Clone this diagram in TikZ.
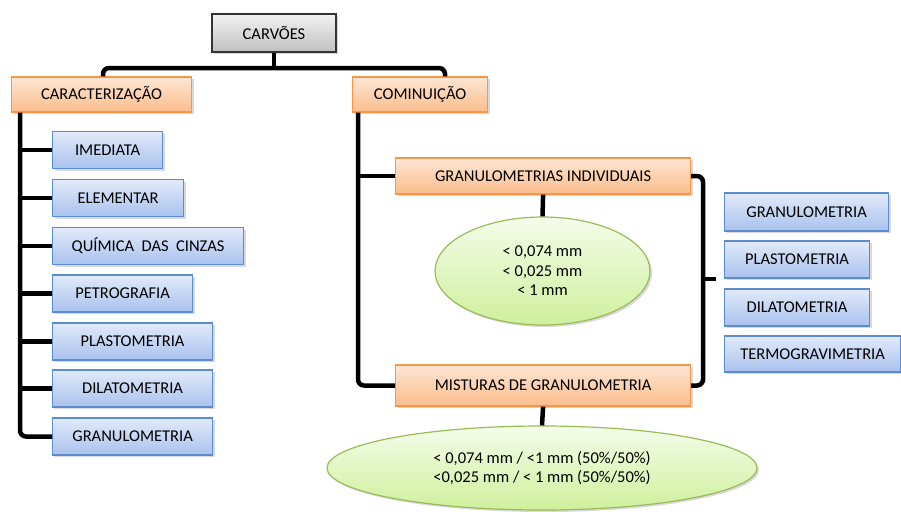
\documentclass[tikz,border=0pt]{standalone}
\usepackage{fontspec}
\setmainfont{Carlito}
\usetikzlibrary{shapes.geometric,shadows}

\definecolor{azulborda}{HTML}{5B8CCF}
\definecolor{azulclaro}{HTML}{E1EAF9}
\definecolor{azulescuro}{HTML}{A9C2EE}
\definecolor{larborda}{HTML}{F79646}
\definecolor{larclaro}{HTML}{FDE6D4}
\definecolor{larescuro}{HTML}{FBBD8B}
\definecolor{verborda}{HTML}{9BBB59}
\definecolor{verclaro}{HTML}{F4FCEA}
\definecolor{verescuro}{HTML}{CFF09C}

\tikzset{sombra/.style = {drop shadow={opacity=0.3, shadow xshift=2pt, shadow yshift=-2pt}},
         caixa/.style = {draw=azulborda, line width=1.2pt, top color=azulclaro, bottom color=azulescuro,
                          minimum height=37pt, inner sep=0pt, anchor=west, sombra},
         laranja/.style = {draw=larborda, line width=1.2pt, top color=larclaro, bottom color=larescuro,
                           minimum height=36pt, inner sep=0pt, anchor=west, sombra},
         bolha/.style = {ellipse, draw=verborda, line width=1.2pt, top color=verclaro, bottom color=verescuro,
                         inner sep=0pt, align=center, sombra},
         liga/.style = {line width=4.5pt, rounded corners=6pt}
        }

\begin{document}
\begin{tikzpicture}[x=1pt, y=-1pt, font=\fontsize{16.5}{19.5}\selectfont]
\useasboundingbox (0,0) rectangle (901,511);
\node[draw=black!80, line width=2pt, top color=black!5, bottom color=black!25, minimum width=124pt,
      minimum height=38pt, sombra] at (274,33) (carv) {CARVÕES};
\node[laranja, minimum width=180pt, minimum height=35pt] at (11,94.5) (carac) {CARACTERIZAÇÃO};
\node[laranja, minimum width=135pt, minimum height=35pt] at (352,94.5) (comin) {COMINUIÇÃO};
\node[caixa, minimum width=110pt] at (52,150) (b1) {IMEDIATA};
\node[caixa, minimum width=131pt] at (52,198) (b2) {ELEMENTAR};
\node[caixa, minimum width=191pt] at (52,246) (b3) {QUÍMICA\ \ DAS\ \ CINZAS};
\node[caixa, minimum width=140pt] at (52,293.5) (b4) {PETROGRAFIA};
\node[caixa, minimum width=160pt] at (52,341.5) (b5) {PLASTOMETRIA};
\node[caixa, minimum width=160pt] at (52,388.5) (b6) {DILATOMETRIA};
\node[caixa, minimum width=160pt] at (52,436.5) (b7) {GRANULOMETRIA};
\node[laranja, minimum width=295pt] at (395,176) (gi) {GRANULOMETRIAS INDIVIDUAIS};
\node[bolha, minimum width=215pt, minimum height=108pt] at (542.5,271) (el1) {< 0,074 mm\\< 0,025 mm\\< 1 mm};
\node[laranja, minimum width=295pt, minimum height=41pt] at (395,385.5) (mg) {MISTURAS DE GRANULOMETRIA};
\node[bolha, minimum width=430pt, minimum height=84pt] at (542,468) (el2)
     {< 0,074 mm / <1 mm (50\%/50\%)\\<0,025 mm / < 1 mm (50\%/50\%)};
\node[caixa, minimum width=164pt, minimum height=38pt] at (724,212) (r1) {GRANULOMETRIA};
\node[caixa, minimum width=145pt] at (724,259.5) (r2) {PLASTOMETRIA};
\node[caixa, minimum width=145pt] at (724,307.5) (r3) {DILATOMETRIA};
\node[caixa, minimum width=176pt, minimum height=36pt] at (724,354) (r4) {TERMOGRAVIMETRIA};

\coordinate (topo) at (274,68);
\coordinate (chave) at (703,279);
\coordinate (ponta) at (716,279);
\draw[liga] (carv.south) -- (topo);
\draw[liga] (carac.north -| 103,0) |- (topo) -| (comin.north -| 445,0);
\draw[liga] (carac.south -| 20,0) |- (b7.west);
\foreach \n in {b1,b2,b3,b4,b5,b6}
  \draw[liga] (\n.west -| 20,0) -- (\n.west);
\draw[liga] (comin.south -| 358,0) |- (mg.west);
\draw[liga] (gi.west -| 358,0) -- (gi.west);
\draw[liga] (gi.south) -- (el1.north);
\draw[liga] (mg.south) -- (el2.north);
\draw[liga] (gi.east) -| (chave) |- (mg.east);
\draw[liga] (chave) -- (ponta);
\end{tikzpicture}
\end{document}
